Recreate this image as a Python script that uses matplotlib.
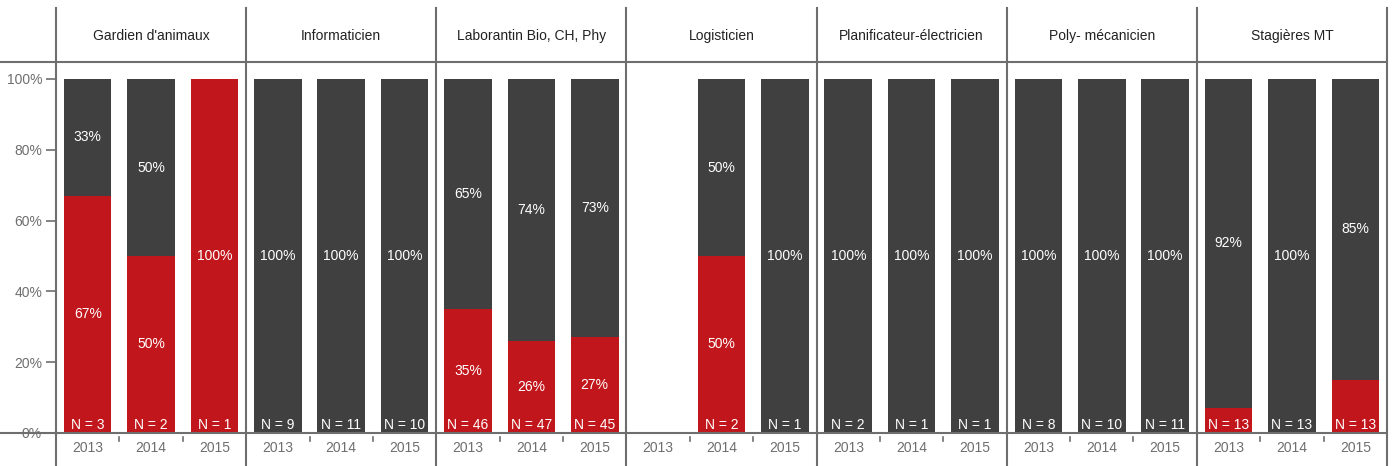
import matplotlib.pyplot as plt
from matplotlib.lines import Line2D

plt.rcParams['font.family'] = ['Liberation Sans', 'DejaVu Sans']

# ---------------------- DATA ----------------------
groups = ["Gardien d'animaux", "Informaticien", "Laborantin Bio, CH, Phy",
          "Logisticien", "Planificateur-électricien", "Poly- mécanicien", "Stagières MT"]
years = ["2013", "2014", "2015"]
# red share (%) per group and year; None = no data
red_pct = [[67, 50, 100], [0, 0, 0], [35, 26, 27], [None, 50, 0],
           [0, 0, 0], [0, 0, 0], [7, 0, 15]]
grey_pct = [[33, 50, 0], [100, 100, 100], [65, 74, 73], [None, 50, 100],
            [100, 100, 100], [100, 100, 100], [92, 100, 85]]
n_counts = [[3, 2, 1], [9, 11, 10], [46, 47, 45], [None, 2, 1],
            [2, 1, 1], [8, 10, 11], [13, 13, 13]]

RED = "#C1161B"
GREY = "#404040"
LINE = "#6E6E6E"
TXT = "#6E6E6E"

W, H = 1393, 466
fig = plt.figure(figsize=(W / 100, H / 100), dpi=100)

# axes geometry in pixels
x0, x1 = 56, 1387
y_zero, y_top, y_hundred = 433, 62, 79
ax = fig.add_axes([x0 / W, (H - y_zero) / H, (x1 - x0) / W, (y_zero - y_top) / H])
ymax = 100 * (y_zero - y_top) / (y_zero - y_hundred)

ng, ny = len(groups), len(years)
bw = 0.75
fs = 10
for g in range(ng):
    for j in range(ny):
        x = g * ny + j + 0.5
        r, k, n = red_pct[g][j], grey_pct[g][j], n_counts[g][j]
        if n is None:
            continue
        # scale to exactly fill 100
        tot = r + k
        r_h, k_h = 100 * r / tot, 100 * k / tot
        ax.bar(x, k_h, bottom=r_h, width=bw, color=GREY, linewidth=0)
        ax.bar(x, r_h, width=bw, color=RED, linewidth=0)
        if r >= 20:
            ax.text(x, r_h / 2, f"{r}%", ha="center", va="center", color="white", fontsize=fs)
        if k >= 20:
            ax.text(x, r_h + k_h / 2, f"{k}%", ha="center", va="center", color="white", fontsize=fs)
        ax.text(x, 2.4, f"N = {n}", ha="center", va="center", color="white", fontsize=fs)

ax.set_xlim(0, ng * ny)
ax.set_ylim(0, ymax)
ax.set_yticks([0, 20, 40, 60, 80, 100])
ax.set_yticklabels(["0%", "20%", "40%", "60%", "80%", "100%"])
ax.tick_params(axis="y", colors=LINE, labelcolor=TXT, labelsize=fs, length=7, width=1.2, pad=3)
ax.set_xticks([])
for s in ax.spines.values():
    s.set_visible(False)

# year labels and small ticks
for g in range(ng):
    for j in range(ny):
        x = g * ny + j + 0.5
        ax.text(x, -4.1, years[j], ha="center", va="center", color=TXT, fontsize=fs,
                clip_on=False)
        if j > 0:
            ax.plot([g * ny + j, g * ny + j], [-1.2, -2.4], color=LINE, lw=1.2, clip_on=False)

# figure level lines
def fx(px):
    return px / W

def fy(py):
    return (H - py) / H

fig.add_artist(Line2D([0, fx(x1)], [fy(y_top), fy(y_top)], color=LINE, lw=1.5))
fig.add_artist(Line2D([0, fx(x1)], [fy(y_zero), fy(y_zero)], color=LINE, lw=1.5))
step = (x1 - x0) / ng
for g in range(ng + 1):
    px = x0 + g * step
    fig.add_artist(Line2D([fx(px), fx(px)], [fy(8), fy(465)], color=LINE, lw=1.5))
for g in range(ng):
    px = x0 + (g + 0.5) * step
    fig.text(fx(px), fy(36), groups[g], ha="center", va="center", color="#222222", fontsize=fs)

fig.savefig("out.png", dpi=100)
